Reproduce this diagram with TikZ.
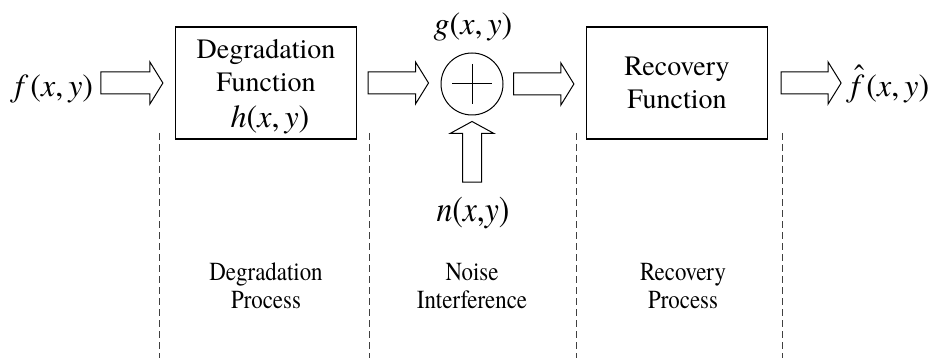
\documentclass[tikz,border=0pt]{standalone}
\usepackage{fontspec}
\setmainfont{texgyretermes}[Extension=.otf,UprightFont=*-regular,ItalicFont=*-italic,BoldFont=*-bold,BoldItalicFont=*-bolditalic]
\newfontfamily\condfont{texgyretermes}[Extension=.otf,UprightFont=*-regular,ItalicFont=*-italic,FakeStretch=0.88]
\usetikzlibrary{calc}
\newcommand\xy{(\textit{x},\kern5pt\textit{y})}
\newcommand\fhat{\makebox[0pt][l]{\kern3pt\raisebox{10pt}{\symbol{"02C6}}}\textit{f}}
\newcommand\harrow[2]{\draw[blockarrow] let \p1=(#1), \p2=(#2) in
  (\x1,\y1+11pt) -- (\x2-13pt,\y1+11pt) -- (\x2-13pt,\y1+21pt) -- (\x2,\y1)
  -- (\x2-13pt,\y1-21pt) -- (\x2-13pt,\y1-11pt) -- (\x1,\y1-11pt) -- cycle;}
\newcommand\varrow[2]{\draw[blockarrow] let \p1=(#1), \p2=(#2) in
  (\x1-9.5pt,\y1) -- (\x1-9.5pt,\y2-12pt) -- (\x1-22pt,\y2-12pt) -- (\x1,\y2)
  -- (\x1+22pt,\y2-12pt) -- (\x1+9.5pt,\y2-12pt) -- (\x1+9.5pt,\y1) -- cycle;}
\tikzset{
  blk/.style={draw,line width=1.2pt,minimum width=181pt,minimum height=112pt,
    inner sep=0pt,align=center,font=\fontsize{28}{33}\selectfont},
  blktxt/.style={inner sep=0pt,align=center,font=\fontsize{28}{33}\selectfont},
  blockarrow/.style={draw,line width=1pt,line join=miter},
  mtxt/.style={inner sep=0pt,font=\fontsize{32}{36}\selectfont},
  lbl/.style={inner sep=0pt,align=center,font=\condfont\fontsize{26}{28}\selectfont},
  sep/.style={draw=black!75,line width=0.9pt,dash pattern=on 7pt off 4pt},
}
\begin{document}
\begin{tikzpicture}[x=1pt,y=-1pt]
\useasboundingbox (0,0) rectangle (941,358);
% input / output signals
\node[mtxt,anchor=base] (f) at (54,97) {\textit{f}\kern2pt\xy};
\node[mtxt,anchor=base] (fh) at (890,97) {\fhat\kern2pt\xy};
% blocks
\node[blk] (deg) at (266,83) {};
\node[blktxt] (degt) at (266,87) {Degradation\\Function\\[3pt]{\fontsize{32}{32}\selectfont\kern8pt\textit{h}\xy}};
\node[blk] (rec) at (677,83) {Recovery\\Function};
% adder
\node[draw,circle,line width=1pt,minimum size=62pt,inner sep=0pt] (sum) at (472,84) {};
\draw[line width=1pt] ($(sum.center)+(-20,0)$) -- ($(sum.center)+(20,0)$)
  ($(sum.center)+(0,-20)$) -- ($(sum.center)+(0,20)$);
\node[mtxt] (g) at (473,27) {\textit{g}\xy};
\node[inner sep=0pt,font=\condfont\fontsize{36}{36}\selectfont] (n) at (473,213) {\textit{n}(\textit{x},\textit{y})};
% block arrows
\coordinate (a1s) at ($(deg.west)+(-74,0)$);
\coordinate (a1e) at ($(deg.west)+(-12,0)$);
\coordinate (a2s) at ($(deg.east)+(11,0)$);
\coordinate (a2e) at ($(sum.west)+(-12,0)$);
\coordinate (a3s) at ($(sum.east)+(10,0)$);
\coordinate (a3e) at ($(rec.west)+(-12,0)$);
\coordinate (a4s) at ($(rec.east)+(13,0)$);
\coordinate (a4e) at ($(rec.east)+(73,0)$);
\coordinate (ups) at (472,182);
\coordinate (upe) at ($(sum.south)+(0,6)$);
\harrow{a1s}{a1e}
\harrow{a2s}{a2e}
\harrow{a3s}{a3e}
\harrow{a4s}{a4e}
\varrow{ups}{upe}
% stage separators
\coordinate (d1t) at (159,133); \coordinate (d1b) at (159,358);
\coordinate (d2t) at (369,133); \coordinate (d2b) at (369,358);
\coordinate (d3t) at (576,133); \coordinate (d3b) at (576,358);
\coordinate (d4t) at (782,133); \coordinate (d4b) at (782,358);
\draw[sep] (d1t) -- (d1b);
\draw[sep] (d2t) -- (d2b);
\draw[sep] (d3t) -- (d3b);
\draw[sep] (d4t) -- (d4b);
% stage labels
\node[lbl] (l1) at (266,286) {Degradation\\Process};
\node[lbl] (l2) at (472,286) {Noise\\Interference};
\node[lbl] (l3) at (683,286) {Recovery\\Process};
\end{tikzpicture}
\end{document}
